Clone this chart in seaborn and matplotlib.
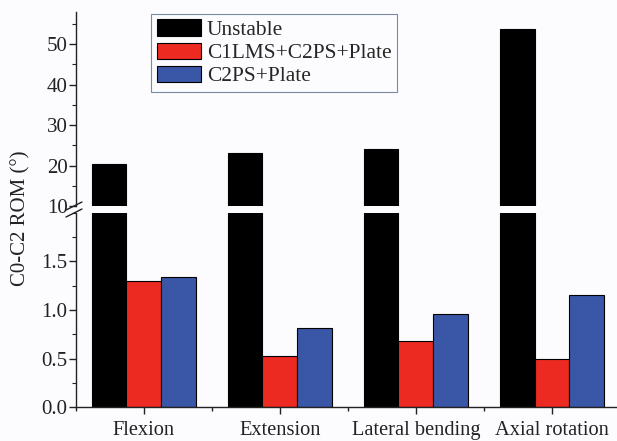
import numpy as np
import pandas as pd
import matplotlib
matplotlib.use('Agg')
import matplotlib.pyplot as plt
from matplotlib.ticker import MultipleLocator
from matplotlib.lines import Line2D
import seaborn as sns

#%% data
motions = ['Flexion', 'Extension', 'Lateral bending', 'Axial rotation']
groups = ['Unstable', 'C1LMS+C2PS+Plate', 'C2PS+Plate']
unstable = [20.5, 23.1, 24.1, 53.8]
c1lms = [1.30, 0.53, 0.68, 0.50]
c2ps = [1.34, 0.82, 0.96, 1.16]
colors = ['#000000', '#ec2a22', '#3a56a6']

df = pd.DataFrame({'motion': motions * 3,
                   'group': np.repeat(groups, 4),
                   'rom': unstable + c1lms + c2ps})

sns.set_theme(style='ticks')
plt.rcParams['font.family'] = ['Liberation Serif', 'DejaVu Serif']
bg = '#fcfcfe'

fig = plt.figure(figsize=(6.17, 4.41), dpi=100, facecolor=bg)
ax_top = fig.add_axes([0.123, 0.533, 0.877, 0.44])
ax_bot = fig.add_axes([0.123, 0.0764, 0.877, 0.441])

for ax in (ax_top, ax_bot):
    sns.barplot(data=df, x='motion', y='rom', hue='group', palette=colors,
                width=0.77, edgecolor='black', linewidth=0.8, saturation=1,
                errorbar=None, ax=ax, legend=(ax is ax_top))
    ax.set_facecolor(bg)
    ax.set_xlim(-0.5, 3.478)
    ax.set_xlabel('')
    ax.set_ylabel('')
    ax.spines['right'].set_visible(False)
    ax.spines['top'].set_visible(False)
    for s in ('left', 'bottom'):
        ax.spines[s].set_linewidth(1.0)
        ax.spines[s].set_color('#222222')
    ax.tick_params(axis='y', which='major', direction='out', length=5, width=1,
                   labelsize=15, pad=1, colors='#222222')
    ax.tick_params(axis='y', which='minor', direction='out', length=3, width=0.8,
                   colors='#222222')

# upper part of the broken axis
ax_top.set_ylim(10, 58)
ax_top.yaxis.set_major_locator(MultipleLocator(10))
ax_top.yaxis.set_minor_locator(MultipleLocator(5))
ax_top.spines['bottom'].set_visible(False)
ax_top.tick_params(axis='x', which='both', bottom=False, labelbottom=False)

# lower part
ax_bot.set_ylim(0, 2.0)
ax_bot.yaxis.set_minor_locator(MultipleLocator(0.25))
ax_bot.set_yticks([0.0, 0.5, 1.0, 1.5])
ax_bot.set_yticklabels(['0.0', '0.5', '1.0', '1.5'])
ax_bot.set_xticks(range(4))
ax_bot.set_xticklabels(motions)
ax_bot.set_xticks([-0.5, 0.5, 1.5, 2.5], minor=True)
ax_bot.tick_params(axis='x', which='major', direction='out', length=5, width=1,
                   labelsize=14.7, pad=5, colors='#222222')
ax_bot.tick_params(axis='x', which='minor', direction='out', length=3, width=1,
                   colors='#222222')

# break marks on the y axis
W, H = 617.0, 441.0
for y in (206, 213):
    fig.add_artist(Line2D([66 / W, 82 / W], [1 - (y + 4) / H, 1 - (y - 4) / H],
                          color='#222222', lw=1.0))

fig.text(0.033, 0.505, 'C0-C2 ROM (°)', rotation=90, ha='center', va='center',
         fontsize=15, color='#222222')

leg = ax_top.legend(loc='upper left', bbox_to_anchor=(0.245, 0.968),
                    bbox_transform=fig.transFigure, fontsize=15.4, frameon=True,
                    fancybox=False, framealpha=1, edgecolor='#7a8aa0',
                    handlelength=2.1, handleheight=0.8, labelspacing=0.12,
                    handletextpad=0.25, borderpad=0.25, borderaxespad=0)
leg.get_frame().set_linewidth(0.8)
leg.get_frame().set_facecolor(bg)

plt.savefig('out.png', dpi=100, facecolor=bg)
